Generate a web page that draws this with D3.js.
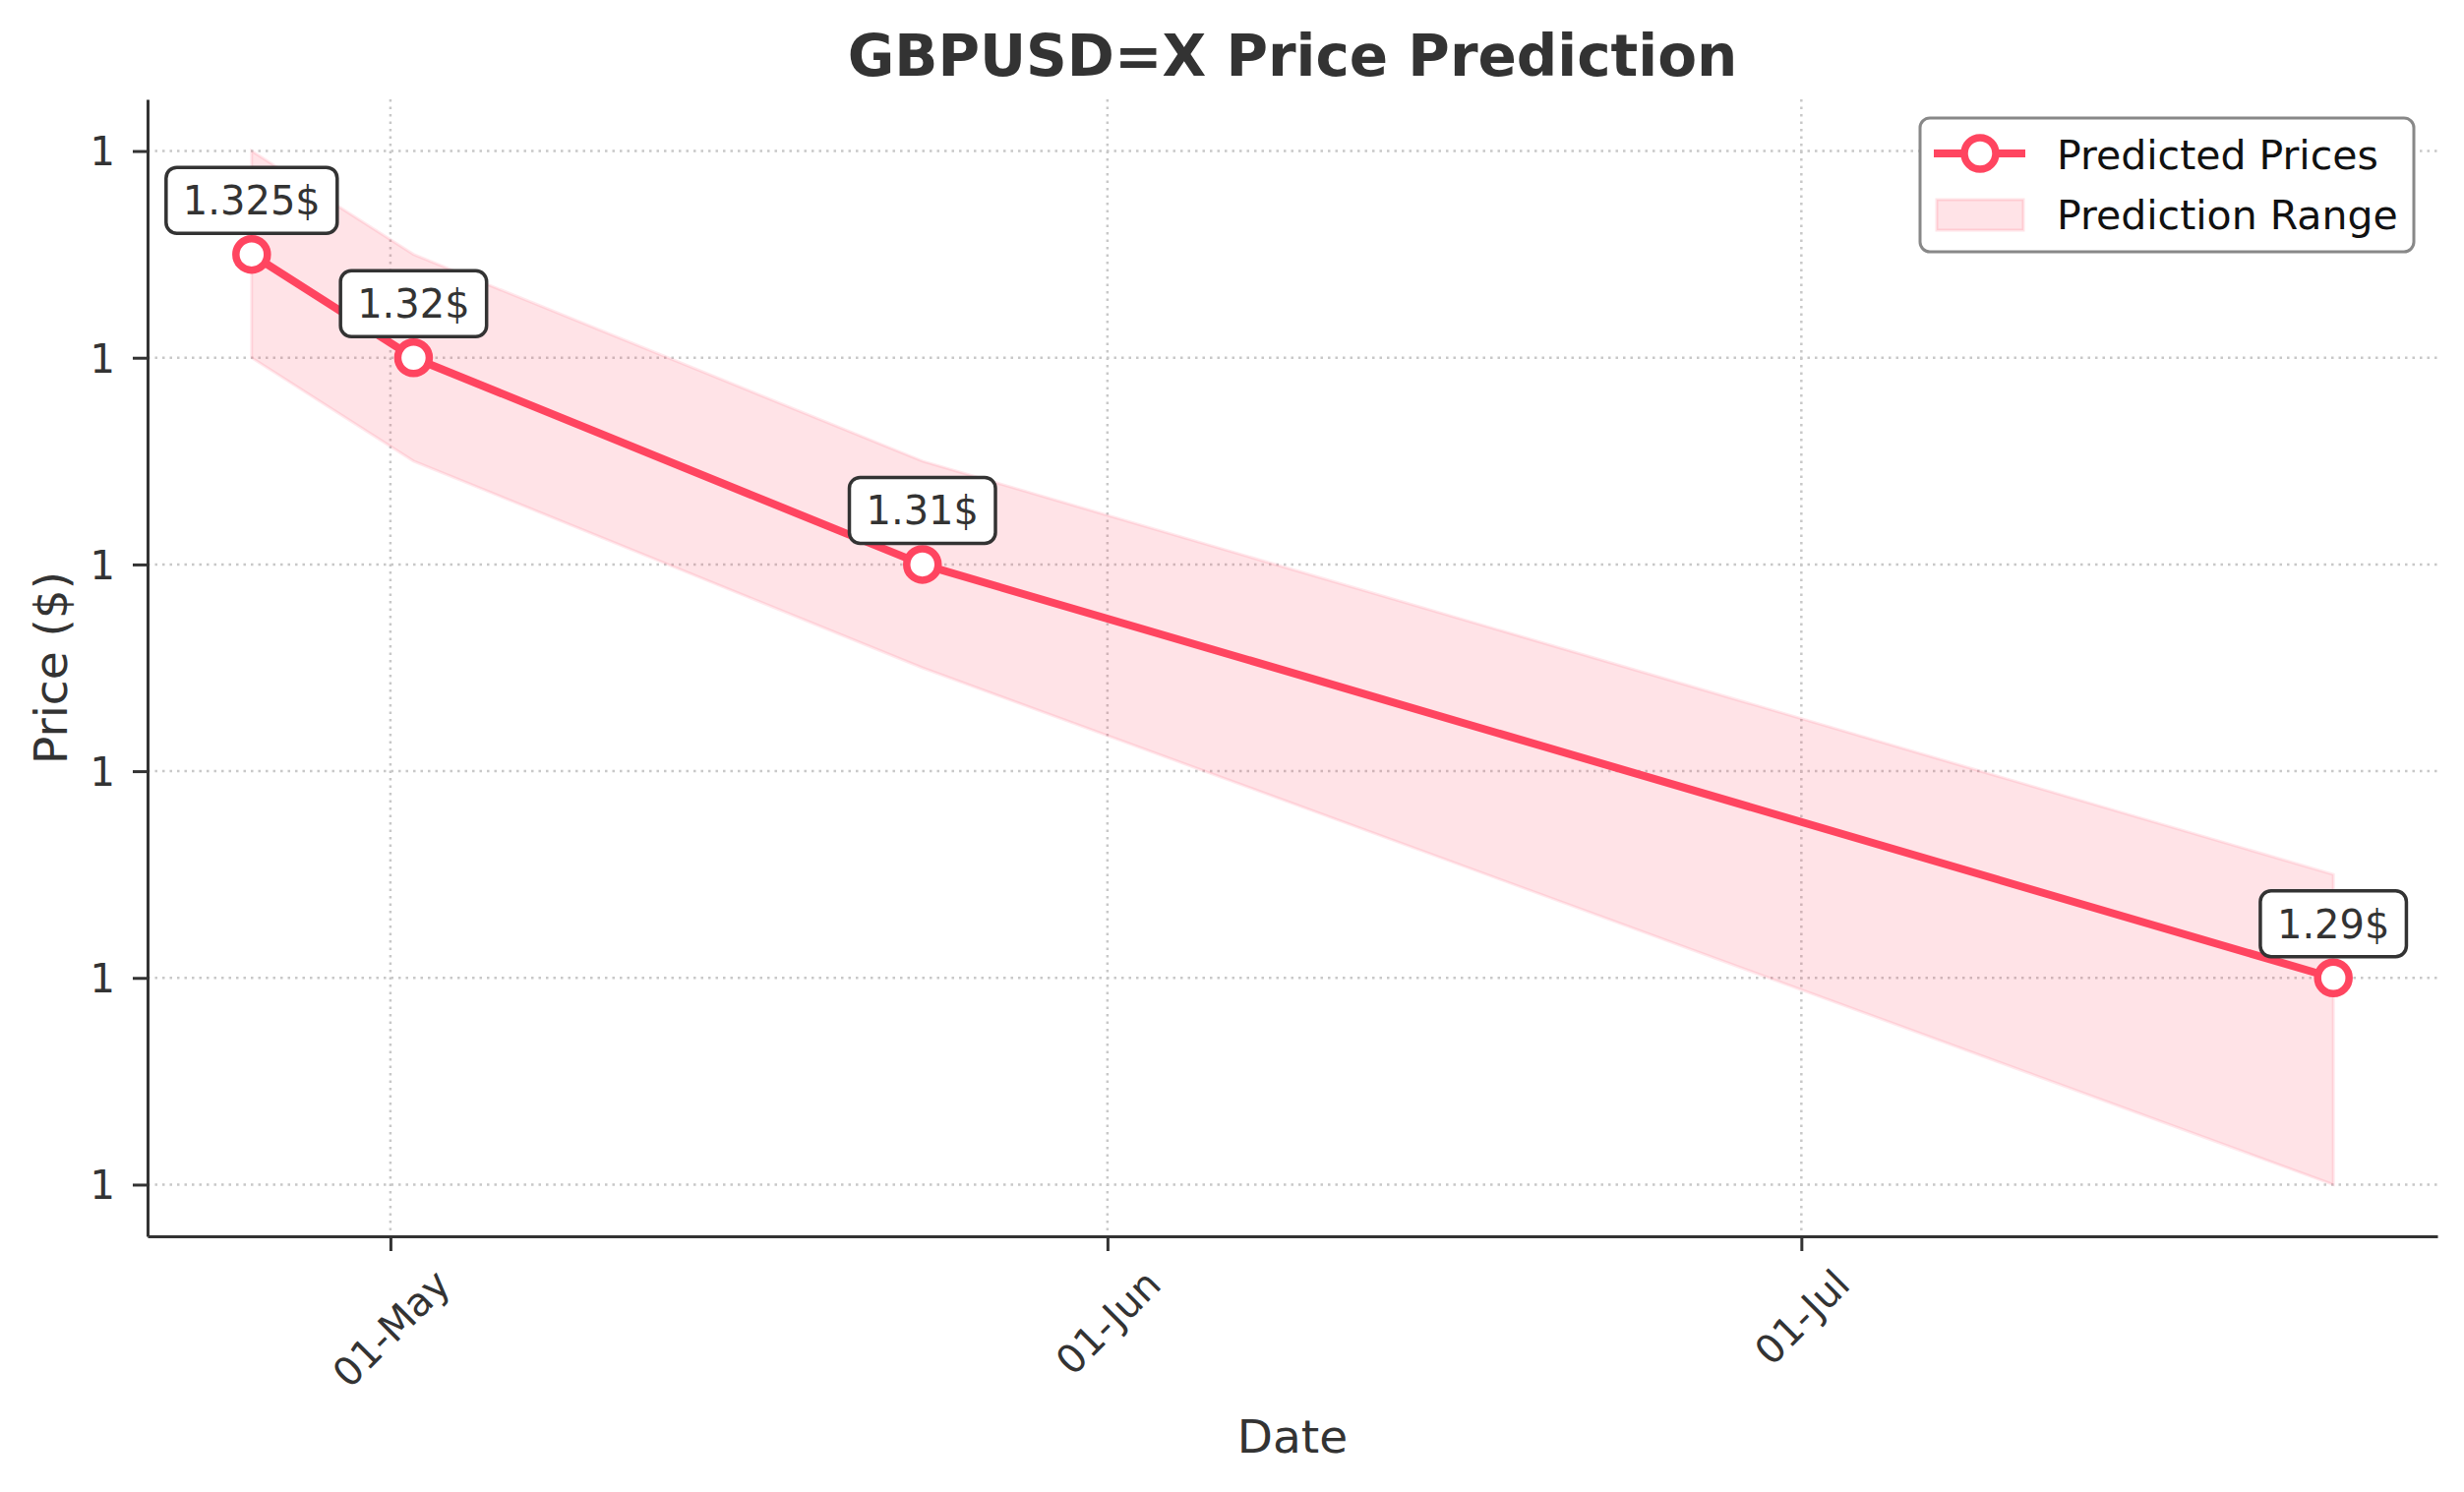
<!DOCTYPE html>
<html>
<head>
<meta charset="utf-8">
<script src="https://cdn.jsdelivr.net/npm/d3@7"></script>
<style>
  body { margin: 0; background: #fff; }
  text { font-family: "DejaVu Sans", sans-serif; }
</style>
</head>
<body>
<svg id="chart"></svg>
<script>
// data
const dates = ["2025-04-25", "2025-05-02", "2025-05-24", "2025-07-24"];
const predicted = [1.325, 1.32, 1.31, 1.29];
const upper = [1.33, 1.325, 1.315, 1.295];
const lower = [1.32, 1.315, 1.305, 1.28];
const priceLabels = ["1.325$", "1.32$", "1.31$", "1.29$"];
const yTicks = [1.28, 1.29, 1.30, 1.31, 1.32, 1.33];
const xTicks = ["2025-05-01", "2025-06-01", "2025-07-01"];

const width = 2505, height = 1517;
const margin = { top: 101, right: 27, bottom: 260, left: 150 };
const innerW = width - margin.left - margin.right;
const innerH = height - margin.top - margin.bottom;
const mainColor = "#ff4560";
const textColor = "#333";

const parse = d3.timeParse("%Y-%m-%d");
const data = dates.map((d, i) => ({
    date: parse(d), value: predicted[i], hi: upper[i], lo: lower[i], label: priceLabels[i]
}));

const svg = d3.select("#chart").attr("width", width).attr("height", height);

// matplotlib style 5% margins
const xExt = d3.extent(data, d => d.date);
const xPad = (xExt[1] - xExt[0]) * 0.05;
const x = d3.scaleTime()
    .domain([new Date(+xExt[0] - xPad), new Date(+xExt[1] + xPad)])
    .range([0, innerW]);

const yMin = d3.min(data, d => d.lo), yMax = d3.max(data, d => d.hi);
const yPad = (yMax - yMin) * 0.05;
const y = d3.scaleLinear()
    .domain([yMin - yPad, yMax + yPad])
    .range([innerH, 0]);

const g = svg.append("g").attr("transform", `translate(${margin.left},${margin.top})`);

// grid
g.append("g").selectAll("line")
    .data(yTicks)
    .join("line")
    .attr("x1", 0).attr("x2", innerW)
    .attr("y1", d => y(d)).attr("y2", d => y(d))
    .attr("stroke", "#c8c8c8").attr("stroke-width", 2.5)
    .attr("stroke-dasharray", "2.5,5");

g.append("g").selectAll("line")
    .data(xTicks.map(parse))
    .join("line")
    .attr("x1", d => x(d)).attr("x2", d => x(d))
    .attr("y1", 0).attr("y2", innerH)
    .attr("stroke", "#c8c8c8").attr("stroke-width", 2.5)
    .attr("stroke-dasharray", "2.5,5");

// prediction range
const area = d3.area()
    .x(d => x(d.date))
    .y0(d => y(d.lo))
    .y1(d => y(d.hi));

g.append("path")
    .datum(data)
    .attr("d", area)
    .attr("fill", mainColor).attr("fill-opacity", 0.15)
    .attr("stroke", mainColor).attr("stroke-opacity", 0.12).attr("stroke-width", 3);

// predicted line
const line = d3.line().x(d => x(d.date)).y(d => y(d.value));
g.append("path")
    .datum(data)
    .attr("d", line)
    .attr("fill", "none")
    .attr("stroke", mainColor).attr("stroke-width", 8)
    .attr("stroke-linejoin", "round");

g.selectAll("circle.pt")
    .data(data)
    .join("circle")
    .attr("class", "pt")
    .attr("cx", d => x(d.date)).attr("cy", d => y(d.value))
    .attr("r", 16)
    .attr("fill", "#fff")
    .attr("stroke", mainColor).attr("stroke-width", 7.5);

// axes
const yAxis = g.append("g")
    .call(d3.axisLeft(y).tickValues(yTicks).tickFormat(d3.format(".0f"))
        .tickSize(15).tickSizeOuter(0).tickPadding(18));

const xAxis = g.append("g")
    .attr("transform", `translate(0,${innerH})`)
    .call(d3.axisBottom(x).tickValues(xTicks.map(parse)).tickFormat(d3.timeFormat("%d-%b"))
        .tickSize(15).tickSizeOuter(0).tickPadding(12));

[yAxis, xAxis].forEach(a => {
    a.select(".domain").attr("stroke", textColor).attr("stroke-width", 3);
    a.selectAll(".tick line").attr("stroke", textColor).attr("stroke-width", 3);
    a.selectAll(".tick text")
        .attr("fill", textColor)
        .style("font-size", "40px")
        .style("font-family", "'DejaVu Sans', sans-serif");
});
yAxis.selectAll(".tick text").attr("dy", "0.36em");

// rotated x labels, centred under the tick like matplotlib's ha=center
xAxis.selectAll(".tick text").each(function () {
    const t = d3.select(this);
    const w = this.getComputedTextLength();
    const h = 40 * 1.0;
    const boxH = (w + h) * Math.SQRT1_2;
    const cy = 15 + 12 + boxH / 2;
    t.attr("x", 0).attr("y", 0).attr("dy", "0.36em")
        .attr("text-anchor", "middle")
        .attr("transform", `translate(0,${cy}) rotate(-45)`);
});

// value labels
const ann = g.append("g").selectAll("g")
    .data(data)
    .join("g")
    .attr("transform", d => `translate(${x(d.date)},${y(d.value) - 55})`);

ann.append("rect");
ann.append("text")
    .attr("text-anchor", "middle")
    .attr("y", 14.5)
    .attr("fill", textColor)
    .style("font-size", "40px")
    .text(d => d.label);

ann.each(function () {
    const grp = d3.select(this);
    const w = grp.select("text").node().getComputedTextLength();
    grp.select("rect")
        .attr("x", -w / 2 - 17).attr("y", -33.5)
        .attr("width", w + 34).attr("height", 67)
        .attr("rx", 11)
        .attr("fill", "#fff")
        .attr("stroke", textColor).attr("stroke-width", 3.5);
});

// titles
svg.append("text")
    .attr("x", margin.left + innerW / 2).attr("y", 77)
    .attr("text-anchor", "middle")
    .attr("fill", textColor)
    .style("font-size", "58px").style("font-weight", "bold")
    .text("GBPUSD=X Price Prediction");

svg.append("text")
    .attr("x", margin.left + innerW / 2).attr("y", 1477)
    .attr("text-anchor", "middle")
    .attr("fill", textColor)
    .style("font-size", "47px")
    .text("Date");

svg.append("text")
    .attr("transform", `translate(68,${margin.top + innerH / 2}) rotate(-90)`)
    .attr("text-anchor", "middle")
    .attr("fill", textColor)
    .style("font-size", "47px")
    .text("Price ($)");

// legend
const legend = svg.append("g").attr("transform", "translate(1952,120)");
legend.append("rect")
    .attr("width", 502).attr("height", 136).attr("rx", 10)
    .attr("fill", "#fff").attr("stroke", "#888").attr("stroke-width", 3);

legend.append("line")
    .attr("x1", 14).attr("x2", 107).attr("y1", 36).attr("y2", 36)
    .attr("stroke", mainColor).attr("stroke-width", 8);
legend.append("circle")
    .attr("cx", 61).attr("cy", 36).attr("r", 16)
    .attr("fill", "#fff").attr("stroke", mainColor).attr("stroke-width", 7.5);
legend.append("rect")
    .attr("x", 17).attr("y", 83).attr("width", 88).attr("height", 31)
    .attr("fill", mainColor).attr("fill-opacity", 0.15)
    .attr("stroke", mainColor).attr("stroke-opacity", 0.15).attr("stroke-width", 3);

legend.selectAll("text.lbl")
    .data(["Predicted Prices", "Prediction Range"])
    .join("text")
    .attr("class", "lbl")
    .attr("x", 139)
    .attr("y", (d, i) => 52 + i * 61)
    .attr("fill", "#111")
    .style("font-size", "41px")
    .text(d => d);
</script>
</body>
</html>
